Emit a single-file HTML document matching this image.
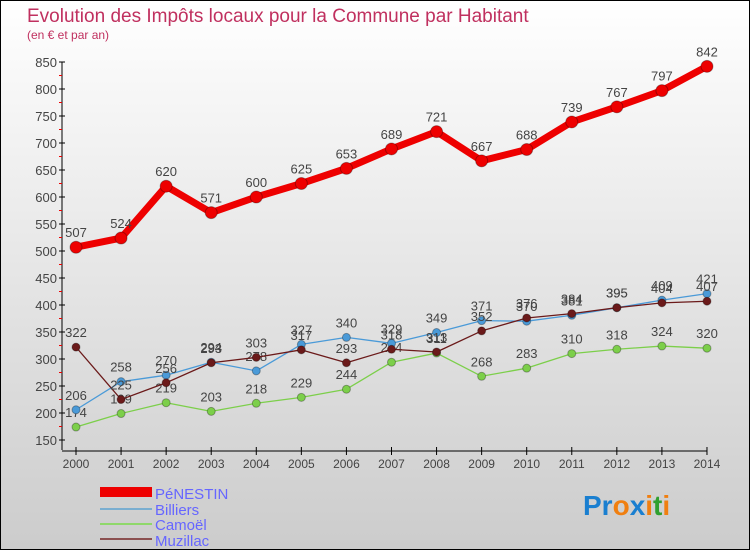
<!DOCTYPE html>
<html><head><meta charset="utf-8"><style>
body{margin:0}
#c{width:748px;height:548px;border:1px solid #000;background:linear-gradient(#fff,#ccc);position:relative;font-family:"Liberation Sans",sans-serif}
</style></head><body>
<div id="c">
<svg id="s" width="748" height="548" style="position:absolute;left:0;top:0" font-family="Liberation Sans, sans-serif">
<text x="26" y="21" font-size="19" fill="#c0305f">Evolution des Impôts locaux pour la Commune par Habitant</text>
<text x="26" y="38" font-size="12" fill="#c0305f">(en € et par an)</text>
<g id="g"></g>
<g>
<rect x="99" y="486" width="52" height="10" fill="#e00"/>
<text x="154" y="498" font-size="15" fill="#66f">PéNESTIN</text>
<rect x="99" y="507" width="52" height="2" fill="#7aaed0"/>
<text x="154" y="514" font-size="15" fill="#66f">Billiers</text>
<rect x="99" y="522" width="52" height="2" fill="#8fd86a"/>
<text x="154" y="529" font-size="15" fill="#66f">Camoël</text>
<rect x="99" y="537" width="52" height="2" fill="#8b5050"/>
<text x="154" y="545" font-size="15" fill="#66f">Muzillac</text>
</g>
<text x="582" y="514" font-size="28" font-weight="bold"><tspan fill="#1a7fd0">Pr</tspan><tspan fill="#f07f10">o</tspan><tspan fill="#1a7fd0">x</tspan><tspan fill="#f07f10">i</tspan><tspan fill="#30a030">t</tspan><tspan fill="#f07f10">i</tspan></text>
</svg>
</div>
<script>
const years=[2000,2001,2002,2003,2004,2005,2006,2007,2008,2009,2010,2011,2012,2013,2014];
const penestin=[507,524,620,571,600,625,653,689,721,667,688,739,767,797,842];
const billiers=[206,258,270,294,278,327,340,329,349,371,370,381,395,409,421];
const camoel=[174,199,219,203,218,229,244,294,311,268,283,310,318,324,320];
const muzillac=[322,225,256,293,303,317,293,318,313,352,376,384,395,404,407];
const yTicks=[150,200,250,300,350,400,450,500,550,600,650,700,750,800,850];
const NS="http://www.w3.org/2000/svg";
const g=document.getElementById('g');
const x=i=>75+i*45.07;
const y=v=>61+(850-v)*0.54;
function mk(t,a,p){const e=document.createElementNS(NS,t);for(const k in a)e.setAttribute(k,a[k]);(p||g).appendChild(e);return e;}
// axes
let ax=mk('line',{x1:61,y1:61,x2:61,y2:y(150)-0+10,stroke:'#000'});


let xa=mk('line',{x1:61,y1:450,x2:706,y2:450,stroke:'#000'});


yTicks.forEach(v=>{
  mk('line',{x1:58,y1:y(v),x2:64,y2:y(v),stroke:'#000'});
  if(v<850)mk('line',{x1:58,y1:y(v+25),x2:61,y2:y(v+25),stroke:'#e00'});
  const t=mk('text',{x:56,y:y(v)+5,'text-anchor':'end','font-size':13,fill:'#444'});
  t.textContent=v;
  
  
});
years.forEach((yr,i)=>{
  mk('line',{x1:x(i),y1:446,x2:x(i),y2:454,stroke:'#000'});
  const t=mk('text',{x:x(i),y:467,'text-anchor':'middle','font-size':12,fill:'#444'});
  t.textContent=yr;
  
  
});
function series(data,color,w,r,name){
  const pts=data.map((v,i)=>x(i)+','+y(v)).join(' ');
  const pl=mk('polyline',{points:pts,fill:'none',stroke:color,'stroke-width':w,'stroke-linejoin':'round'});
  
  
  data.forEach((v,i)=>{
    const c=mk('circle',{cx:x(i),cy:y(v),r:r,fill:color,stroke:'rgba(0,0,0,0.3)'});
    
    
    const t=mk('text',{x:x(i),y:y(v)-10,'text-anchor':'middle','font-size':13,fill:'#444'});
    t.textContent=v;
    
    
  });
}
series(camoel,'#7ccf4a',1.3,4,'camoel');
series(billiers,'#4a9ad8',1.3,4,'billiers');
series(muzillac,'#6b1a1a',1.3,4,'muzillac');
series(penestin,'#e00',7,6,'penestin');
</script>
</body></html>
